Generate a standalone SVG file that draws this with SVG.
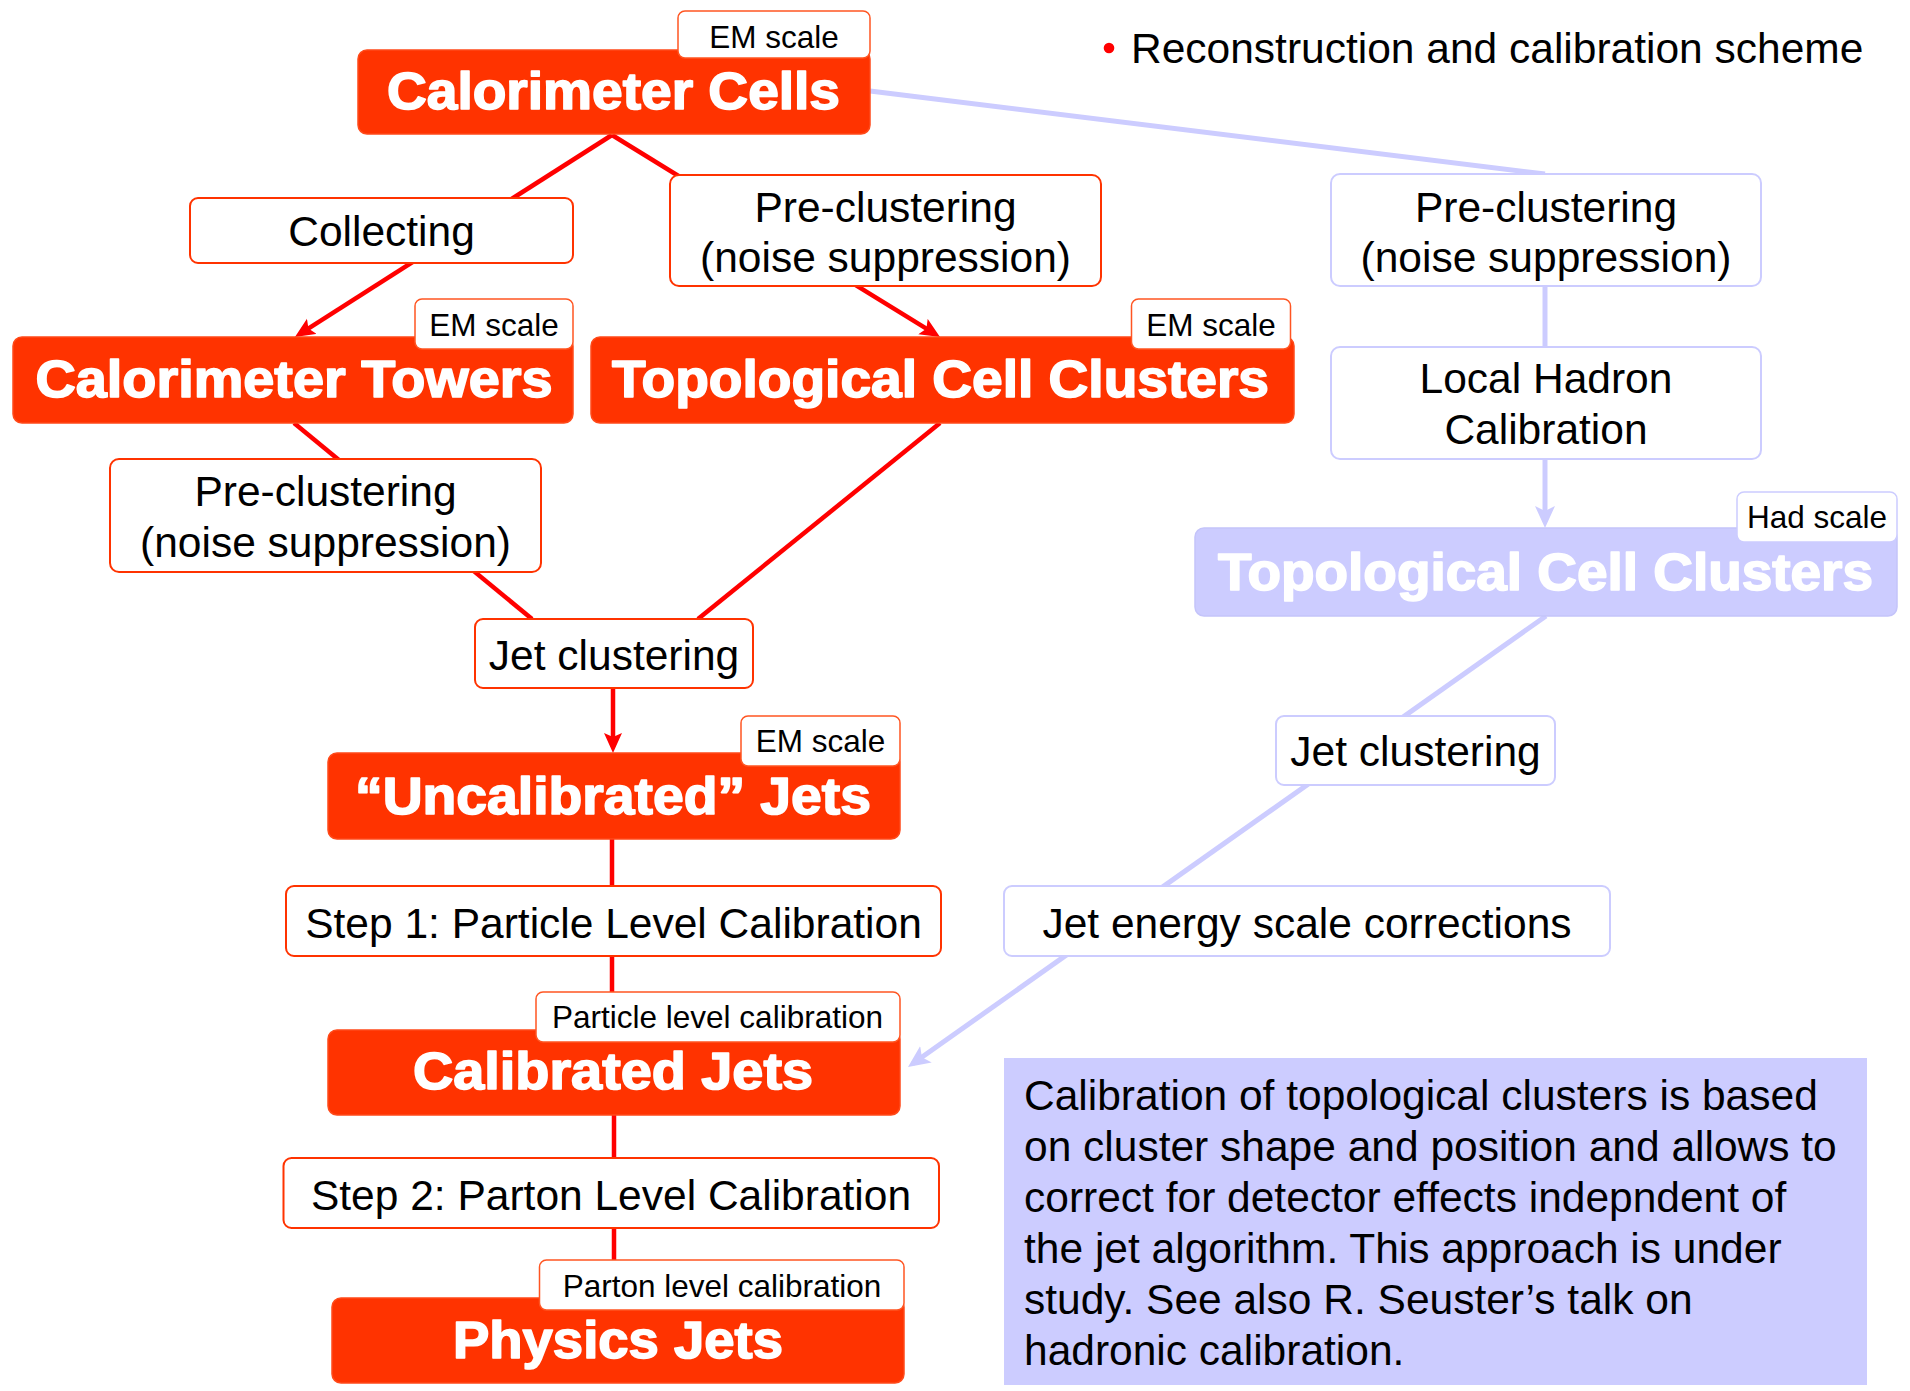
<svg xmlns="http://www.w3.org/2000/svg" width="1910" height="1391" viewBox="0 0 1910 1391">
<defs>
<style>
.t{font-family:"Liberation Sans",Arial,sans-serif;font-size:42.5px;fill:#000;text-anchor:middle}
.tl{font-family:"Liberation Sans",Arial,sans-serif;font-size:42.5px;fill:#000}
.s{font-family:"Liberation Sans",Arial,sans-serif;font-size:31.5px;fill:#000;text-anchor:middle}
.b{font-family:"Liberation Sans",Arial,sans-serif;font-size:51px;font-weight:bold;fill:#fff;stroke:#fff;stroke-width:1.6;stroke-linejoin:round;text-anchor:middle}
.rbox{fill:#FF3300;stroke:#FF4A1A;stroke-width:1.5}
.bbox{fill:#CCCCFF;stroke:#C4C4FA;stroke-width:1.5}
.wr{fill:#fff;stroke:#FF3300;stroke-width:2}
.wb{fill:#fff;stroke:#CCCCFF;stroke-width:2}
.lr{fill:#fff;stroke:#FF5522;stroke-width:1.5}
.lb{fill:#fff;stroke:#CCCCFF;stroke-width:1.5}
.cr{stroke:#FF0000;stroke-width:4.5;fill:none}
.cb{stroke:#CCCCFF;stroke-width:5;fill:none}
</style>
<marker id="ar" markerUnits="userSpaceOnUse" markerWidth="22" markerHeight="20" refX="14" refY="9" orient="auto" viewBox="0 0 22 20">
<path d="M0,0 L20,9 L0,18 L4,9 z" fill="#FF0000"/>
</marker>
<marker id="ab" markerUnits="userSpaceOnUse" markerWidth="24" markerHeight="22" refX="16" refY="10" orient="auto" viewBox="0 0 24 22">
<path d="M0,0 L22,10 L0,20 L5,10 z" fill="#CCCCFF"/>
</marker>
</defs>
<rect width="1910" height="1391" fill="#fff"/>

<g id="connectors">
<line class="cr" x1="612" y1="135" x2="300" y2="333.8" marker-end="url(#ar)"/>
<line class="cr" x1="612" y1="135" x2="934.9" y2="333.9" marker-end="url(#ar)"/>
<line class="cr" x1="294" y1="423" x2="532" y2="619"/>
<line class="cr" x1="940" y1="423" x2="698" y2="619"/>
<line class="cr" x1="613" y1="688" x2="613" y2="747" marker-end="url(#ar)"/>
<line class="cr" x1="612" y1="839" x2="612" y2="992"/>
<line class="cr" x1="614" y1="1115" x2="614" y2="1260"/>
<line class="cb" x1="870" y1="91" x2="1545" y2="174"/>
<line class="cb" x1="1545" y1="286" x2="1545" y2="347"/>
<line class="cb" x1="1545" y1="459" x2="1545" y2="522" marker-end="url(#ab)"/>
<line class="cb" x1="1546" y1="616" x2="912.9" y2="1063.5" marker-end="url(#ab)"/>
</g>

<g id="title">
<circle cx="1109" cy="48" r="5.3" fill="#FF0000"/>
<text class="tl" x="1131" y="63">Reconstruction and calibration scheme</text>
</g>

<g id="calorimeter-cells">
<rect class="rbox" x="358" y="50" width="512" height="84" rx="9"/>
<text class="b" x="613.5" y="109" textLength="453" lengthAdjust="spacingAndGlyphs">Calorimeter Cells</text>
<rect class="lr" x="678" y="11" width="192" height="47" rx="7"/>
<text class="s" x="774" y="48">EM scale</text>
</g>

<g id="collecting">
<rect class="wr" x="190" y="198" width="383" height="65" rx="8"/>
<text class="t" x="381.5" y="246">Collecting</text>
</g>

<g id="preclustering-em">
<rect class="wr" x="670" y="175" width="431" height="111" rx="9"/>
<text class="t" x="885.5" y="222">Pre-clustering</text>
<text class="t" x="885.5" y="272">(noise suppression)</text>
</g>

<g id="calorimeter-towers">
<rect class="rbox" x="13" y="337" width="560" height="86" rx="9"/>
<text class="b" x="294" y="397" textLength="517" lengthAdjust="spacingAndGlyphs">Calorimeter Towers</text>
<rect class="lr" x="415" y="299" width="158" height="50" rx="7"/>
<text class="s" x="494" y="336">EM scale</text>
</g>

<g id="topo-clusters-em">
<rect class="rbox" x="591" y="337" width="703" height="86" rx="9"/>
<text class="b" x="940.5" y="397" textLength="657" lengthAdjust="spacingAndGlyphs">Topological Cell Clusters</text>
<rect class="lr" x="1131.5" y="299" width="159" height="50" rx="7"/>
<text class="s" x="1211" y="336">EM scale</text>
</g>

<g id="preclustering-had">
<rect class="wb" x="1331" y="174" width="430" height="112" rx="9"/>
<text class="t" x="1546" y="222">Pre-clustering</text>
<text class="t" x="1546" y="272">(noise suppression)</text>
</g>

<g id="local-hadron-calibration">
<rect class="wb" x="1331" y="347" width="430" height="112" rx="9"/>
<text class="t" x="1546" y="393">Local Hadron</text>
<text class="t" x="1546" y="444">Calibration</text>
</g>

<g id="topo-clusters-had">
<rect class="bbox" x="1195" y="528" width="702" height="88" rx="9"/>
<text class="b" x="1545.5" y="590" textLength="655" lengthAdjust="spacingAndGlyphs">Topological Cell Clusters</text>
<rect class="lb" x="1737" y="492" width="160" height="50" rx="7"/>
<text class="s" x="1817" y="528">Had scale</text>
</g>

<g id="preclustering-towers">
<rect class="wr" x="110" y="459" width="431" height="113" rx="9"/>
<text class="t" x="325.5" y="506">Pre-clustering</text>
<text class="t" x="325.5" y="557">(noise suppression)</text>
</g>

<g id="jet-clustering-em">
<rect class="wr" x="475" y="619" width="278" height="69" rx="8"/>
<text class="t" x="614" y="670">Jet clustering</text>
</g>

<g id="uncalibrated-jets">
<rect class="rbox" x="328" y="753" width="572" height="86" rx="9"/>
<text class="b" x="613" y="814" textLength="516" lengthAdjust="spacingAndGlyphs">“Uncalibrated” Jets</text>
<rect class="lr" x="741" y="716" width="159" height="50" rx="7"/>
<text class="s" x="820.5" y="752">EM scale</text>
</g>

<g id="step1">
<rect class="wr" x="286" y="886" width="655" height="70" rx="8"/>
<text class="t" x="613.5" y="938">Step 1: Particle Level Calibration</text>
</g>

<g id="calibrated-jets">
<rect class="rbox" x="328" y="1030" width="572" height="85" rx="9"/>
<text class="b" x="613" y="1089" textLength="400" lengthAdjust="spacingAndGlyphs">Calibrated Jets</text>
<rect class="lr" x="536" y="992" width="364" height="50" rx="7"/>
<text class="s" x="717.5" y="1028">Particle level calibration</text>
</g>

<g id="step2">
<rect class="wr" x="283.5" y="1158" width="655.5" height="70" rx="8"/>
<text class="t" x="611" y="1210">Step 2: Parton Level Calibration</text>
</g>

<g id="physics-jets">
<rect class="rbox" x="332" y="1298" width="572" height="85" rx="9"/>
<text class="b" x="618" y="1358" textLength="330" lengthAdjust="spacingAndGlyphs">Physics Jets</text>
<rect class="lr" x="539.5" y="1260" width="364.5" height="50" rx="7"/>
<text class="s" x="722" y="1297">Parton level calibration</text>
</g>

<g id="jet-clustering-had">
<rect class="wb" x="1276" y="716" width="279" height="69" rx="8"/>
<text class="t" x="1415.5" y="766">Jet clustering</text>
</g>

<g id="jet-energy-scale-corrections">
<rect class="wb" x="1004" y="886" width="606" height="70" rx="8"/>
<text class="t" x="1307" y="938">Jet energy scale corrections</text>
</g>

<g id="note">
<rect x="1004" y="1058" width="863" height="327" fill="#CCCCFF"/>
<text class="tl" x="1024" y="1110">Calibration of topological clusters is based</text>
<text class="tl" x="1024" y="1161">on cluster shape and position and allows to</text>
<text class="tl" x="1024" y="1212">correct for detector effects indepndent of</text>
<text class="tl" x="1024" y="1263">the jet algorithm. This approach is under</text>
<text class="tl" x="1024" y="1314">study. See also R. Seuster’s talk on</text>
<text class="tl" x="1024" y="1365">hadronic calibration.</text>
</g>
</svg>
